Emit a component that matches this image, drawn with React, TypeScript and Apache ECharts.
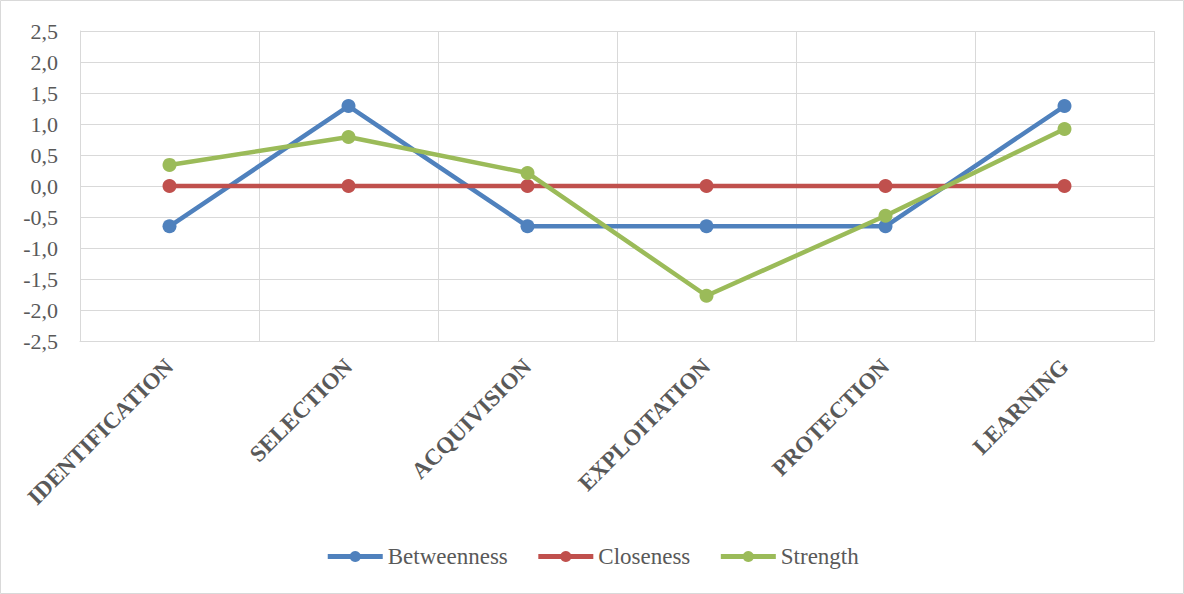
import React, { useEffect, useRef } from "react";
import * as echarts from "echarts";

const categories = ["IDENTIFICATION", "SELECTION", "ACQUIVISION", "EXPLOITATION", "PROTECTION", "LEARNING"];
const betweenness = [-0.65, 1.29, -0.65, -0.65, -0.65, 1.29];
const closeness = [0, 0, 0, 0, 0, 0];
const strength = [0.34, 0.79, 0.21, -1.77, -0.48, 0.92];
const seriesNames = ["Betweenness", "Closeness", "Strength"];
const colors = ["#4f81bd", "#c0504d", "#9bbb59"];

export default function App() {
  const ref = useRef<HTMLDivElement>(null);
  useEffect(() => {
    if (!ref.current) return;
    const chart = echarts.init(ref.current, null, { renderer: "svg" });
    const font = "'Liberation Serif', 'Times New Roman', serif";
    const data = [betweenness, closeness, strength];
    chart.setOption({
      animation: false,
      backgroundColor: "#ffffff",
      textStyle: { fontFamily: font },
      graphic: [
        {
          type: "rect",
          shape: { x: 0.5, y: 0.5, width: 1183, height: 593 },
          style: { fill: "none", stroke: "#d9d9d9", lineWidth: 1 },
          silent: true,
        },
      ],
      grid: { left: 80, right: 30, top: 31, bottom: 253, containLabel: false },
      legend: {
        bottom: 21,
        left: "center",
        itemWidth: 55,
        itemHeight: 14,
        itemGap: 28,
        lineStyle: { width: 5 },
        textStyle: { fontFamily: font, fontSize: 23, color: "#595959" },
        data: seriesNames,
      },
      xAxis: {
        type: "category",
        data: categories,
        boundaryGap: true,
        axisLine: { onZero: false, lineStyle: { color: "#d9d9d9", width: 1 } },
        axisTick: { show: false },
        splitLine: { show: true, lineStyle: { color: "#d9d9d9", width: 1 } },
        axisLabel: {
          rotate: 45,
          interval: 0,
          margin: 22,
          fontFamily: font,
          fontSize: 23,
          fontWeight: "bold",
          color: "#595959",
        },
      },
      yAxis: {
        type: "value",
        min: -2.5,
        max: 2.5,
        interval: 0.5,
        axisLine: { show: true, lineStyle: { color: "#d9d9d9" } },
        axisTick: { show: false },
        splitLine: { lineStyle: { color: "#d9d9d9", width: 1 } },
        axisLabel: {
          margin: 22,
          fontFamily: font,
          fontSize: 22,
          color: "#595959",
          formatter: (v: number) => v.toFixed(1).replace(".", ","),
        },
      },
      series: seriesNames.map((name, i) => ({
        name,
        type: "line",
        data: data[i],
        symbol: "circle",
        symbolSize: 14,
        lineStyle: { width: 4.5, color: colors[i] },
        itemStyle: { color: colors[i] },
        z: 2 + i,
      })),
    });
    return () => chart.dispose();
  }, []);
  return (
    <div
      ref={ref}
      style={{ position: "fixed", left: 0, top: 0, width: 1184, height: 594 }}
    />
  );
}
